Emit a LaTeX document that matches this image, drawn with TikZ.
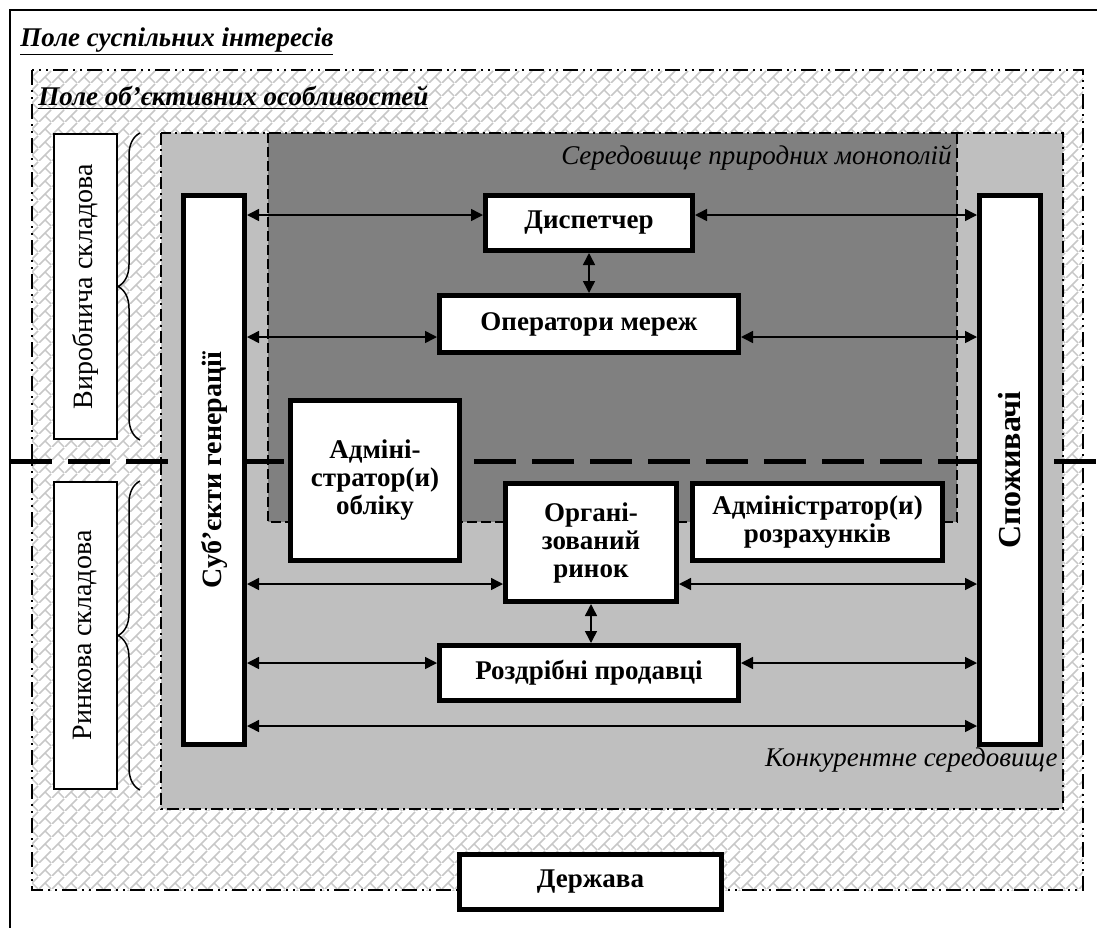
\documentclass[tikz,border=0pt]{standalone}
\usepackage{fontspec}
\setmainfont{Liberation Serif}
\usepackage{tikz}
\usetikzlibrary{arrows.meta,patterns,decorations.pathreplacing}

\pgfdeclarepatternformonly{diagbricks}{\pgfqpoint{0pt}{0pt}}{\pgfqpoint{6.5pt}{6.5pt}}{\pgfqpoint{6.5pt}{6.5pt}}{%
  \pgfsetlinewidth{0.8pt}%
  \pgfpathmoveto{\pgfqpoint{0pt}{0pt}}\pgfpathlineto{\pgfqpoint{6.5pt}{6.5pt}}%
  \pgfpathmoveto{\pgfqpoint{6.5pt}{0pt}}\pgfpathlineto{\pgfqpoint{3.25pt}{3.25pt}}%
  \pgfusepath{stroke}}

\tikzset{
  box/.style={draw, line width=2.5pt, fill=white, align=center, inner sep=0pt,
    font=\fontsize{13.5}{14}\selectfont\bfseries},
  sidebox/.style={draw, line width=1pt, fill=white, inner sep=0pt,
    minimum width=31.5pt, font=\fontsize{14}{16}\selectfont},
  bigbox/.style={box, minimum width=30.5pt, minimum height=274.5pt,
    font=\fontsize{14}{16}\selectfont\bfseries},
  biarrow/.style={{Triangle[length=6pt,width=6pt]}-{Triangle[length=6pt,width=6pt]}, line width=0.75pt},
  fieldtitle/.style={anchor=base west, inner sep=0pt, font=\fontsize{13.5}{15}\selectfont\bfseries\itshape},
  envlabel/.style={anchor=east, inner sep=0pt, font=\fontsize{13.5}{15}\selectfont\itshape},
  sidebrace/.style={decorate, decoration={brace, amplitude=11pt}, line width=0.75pt}
}

\begin{document}
\begin{tikzpicture}[x=0.5pt,y=-0.5pt]
\useasboundingbox (0,0) rectangle (1097,927);
\clip (0,0) rectangle (1097,927);
\draw[line width=1pt] (10,10) rectangle (1120,950);
\node[fieldtitle] (pub) at (20,46) {\underline{Поле суспільних інтересів}};

\draw[pattern=diagbricks, pattern color=black!22, line width=1pt,
  dash pattern=on 7.5pt off 2.5pt on 1pt off 2.5pt on 1pt off 2.5pt] (32,70) rectangle (1083,890);
\node[fieldtitle] (obj) at (38,105) {\underline{Поле об’єктивних особливостей}};

\fill[black!25] (161,133) rectangle (1063,809);
\fill[black!50] (268,133) rectangle (957,522);
\draw[line width=0.75pt, dash pattern=on 5pt off 2pt] (268,133) -- (268,522) -- (957,522) -- (957,133);
\draw[line width=1pt, dash pattern=on 6pt off 2pt on 1pt off 2pt] (161,133) rectangle (1063,809);
\node[envlabel] (mono) at (952,158) {Середовище природних монополій};
\node[envlabel] (konk) at (1058,760) {Конкурентне середовище};

\draw[line width=2.5pt, dash pattern=on 21pt off 8pt] (10,461) -- (1097,461);

\node[sidebox, minimum height=152.5pt] (vyrob) at (85.5,286.5) {\rotatebox{90}{Виробнича складова}};
\node[sidebox, minimum height=153.5pt] (rynok) at (85.5,635.5) {\rotatebox{90}{Ринкова складова}};
\draw[sidebrace] (140,440) -- (140,133);
\draw[sidebrace] (140,790) -- (140,481);

\node[bigbox] (subj) at (214,470) {\rotatebox{90}{Суб’єкти генерації}};
\node[bigbox, font=\fontsize{16}{18}\selectfont\bfseries] (spoz) at (1010,470) {\rotatebox{90}{Споживачі}};
\node[box, minimum width=103.5pt, minimum height=27.5pt] (disp) at (589,223) {Диспетчер};
\node[box, minimum width=149.5pt, minimum height=28.5pt] (oper) at (589,324) {Оператори мереж};
\node[box, minimum width=84.5pt, minimum height=80pt] (obl) at (375,480.5) {Адміні-\\стратор(и)\\обліку};
\node[box, minimum width=85.5pt, minimum height=59pt] (orynok) at (591,542.5) {Органі-\\зований\\ринок};
\node[box, minimum width=125pt, minimum height=38.5pt] (rozr) at (817.5,522) {Адміністратор(и)\\розрахунків};
\node[box, minimum width=149.5pt, minimum height=27.5pt] (rozd) at (589,673) {Роздрібні продавці};
\node[box, minimum width=131pt, minimum height=27.5pt] (derzh) at (590.5,882) {Держава};

\coordinate (r1) at (0,215);
\coordinate (r2) at (0,337);
\coordinate (r3) at (0,584);
\coordinate (r4) at (0,663);
\coordinate (r5) at (0,726);
\draw[biarrow] (subj.east |- r1) -- (disp.west |- r1);
\draw[biarrow] (disp.east |- r1) -- (spoz.west |- r1);
\draw[biarrow] (disp.south) -- (disp.south |- oper.north);
\draw[biarrow] (subj.east |- r2) -- (oper.west |- r2);
\draw[biarrow] (oper.east |- r2) -- (spoz.west |- r2);
\draw[biarrow] (subj.east |- r3) -- (orynok.west |- r3);
\draw[biarrow] (orynok.east |- r3) -- (spoz.west |- r3);
\draw[biarrow] (orynok.south) -- (orynok.south |- rozd.north);
\draw[biarrow] (subj.east |- r4) -- (rozd.west |- r4);
\draw[biarrow] (rozd.east |- r4) -- (spoz.west |- r4);
\draw[biarrow] (subj.east |- r5) -- (spoz.west |- r5);
\end{tikzpicture}
\end{document}
